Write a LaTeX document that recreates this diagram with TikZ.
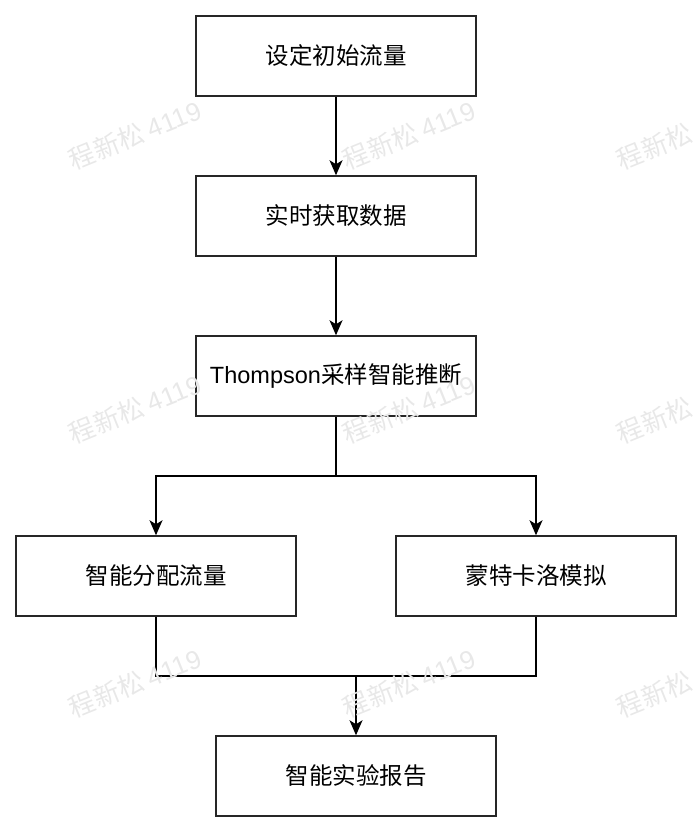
\documentclass[tikz,border=0pt]{standalone}
\usepackage{fontspec}
\usepackage{xcolor}
\setmainfont{Noto Sans CJK SC}
\newfontfamily\latinfont{Liberation Sans}
\usetikzlibrary{arrows.meta}

\begin{document}
\begin{tikzpicture}[x=1pt,y=-1pt,
        box/.style={draw=black!85, line width=1.5pt, minimum width=280pt, minimum height=80pt,
            inner sep=0pt, font=\fontsize{23.5}{26}\selectfont},
        link/.style={line width=1.5pt},
        arr/.style={link, -{Stealth[length=15pt,width=13pt,inset=4pt]}},
        wm/.style={text=black!9, font=\fontsize{26}{28}\selectfont, rotate=22}]
        \useasboundingbox (0,0) rectangle (694,834);
        % 流程框
        \node[box] (init) at (336,56) {设定初始流量};
        \node[box] (fetch) at (336,216) {实时获取数据};
        \node[box] (infer) at (336,376) {{\latinfont Thompson}采样智能推断};
        \node[box] (alloc) at (156,576) {智能分配流量};
        \node[box] (mc) at (536,576) {蒙特卡洛模拟};
        \node[box] (report) at (356,776) {智能实验报告};
        % 连线
        \coordinate (split) at (336,476);
        \coordinate (merge) at (356,676);
        \draw[arr] (init) -- (fetch);
        \draw[arr] (fetch) -- (infer);
        \draw[link] (infer) -- (split);
        \draw[arr] (split) -| (alloc);
        \draw[arr] (split) -| (mc);
        \draw[link] (alloc) |- (merge);
        \draw[link] (mc) |- (merge);
        \draw[arr] (merge) -- (report);
        % 水印
        \foreach \x in {135,409,683}
            \foreach \y in {135,409,683}
                \node[wm] at (\x,\y) {程新松 {\latinfont 4119}};
    \end{tikzpicture}
\end{document}
